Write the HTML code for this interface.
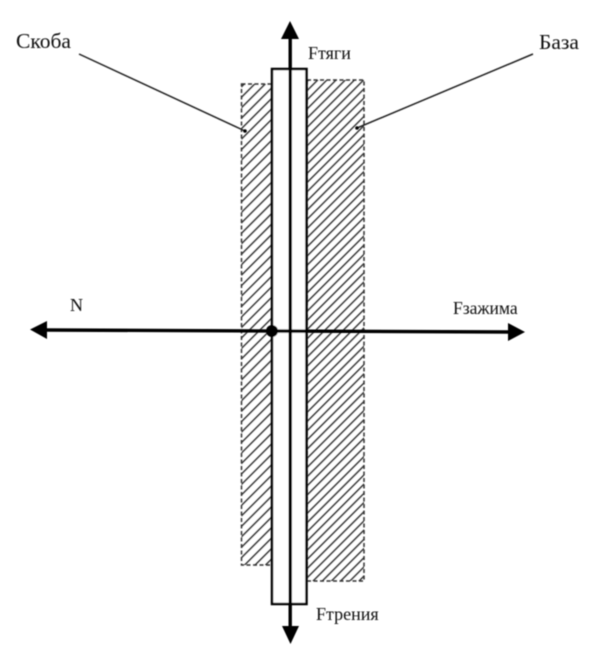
<!DOCTYPE html>
<html>
<head>
<meta charset="utf-8">
<style>
html,body{margin:0;padding:0;background:#fff;width:600px;height:654px;overflow:hidden}
svg{display:block}
text{font-family:"Liberation Serif",serif;fill:#111}
</style>
</head>
<body>
<svg width="600" height="654" viewBox="0 0 600 654" xmlns="http://www.w3.org/2000/svg">
<defs>
<pattern id="h" patternUnits="userSpaceOnUse" width="6.5" height="10" patternTransform="rotate(45 0 0) translate(1 0)">
<rect x="0" y="0" width="1.4" height="10" fill="#333"/>
</pattern>
<pattern id="h2" patternUnits="userSpaceOnUse" width="7.4" height="10" patternTransform="rotate(45 0 0) translate(2 0)">
<rect x="0" y="0" width="1.4" height="10" fill="#333"/>
</pattern>
<filter id="b" x="-5%" y="-5%" width="110%" height="110%"><feGaussianBlur stdDeviation="0.45"/></filter>
</defs>
<g filter="url(#b)">
<rect x="241.500" y="84" width="30.500" height="481" fill="url(#h2)" stroke="#333" stroke-width="1.500" stroke-dasharray="4 2.500"/>
<rect x="307" y="80" width="57" height="501" fill="url(#h)" stroke="#333" stroke-width="1.500" stroke-dasharray="4 2.500"/>
<rect x="272" y="69" width="34.500" height="535" fill="#fff" stroke="#000" stroke-width="2.500"/>
<line x1="290.200" y1="36" x2="290.200" y2="628" stroke="#000" stroke-width="3.400"/>
<polygon points="290,21 299,39 281,39" fill="#000"/>
<polygon points="290.500,644 299,626 282,626" fill="#000"/>
<line x1="45" y1="330" x2="510" y2="332" stroke="#000" stroke-width="3.400"/>
<polygon points="30,329.500 47,321 47,339" fill="#000"/>
<polygon points="525,332 508,323 508,341" fill="#000"/>
<circle cx="272" cy="331" r="6" fill="#000"/>
<line x1="79" y1="54" x2="245" y2="131" stroke="#222" stroke-width="1.500"/>
<line x1="533" y1="54" x2="357" y2="128" stroke="#222" stroke-width="1.500"/>
<circle cx="245" cy="131" r="1.800" fill="#000"/>
<circle cx="357" cy="128" r="1.800" fill="#000"/>
</g>
<g filter="url(#b)">
<text x="16" y="48" font-size="21.500">Скоба</text>
<text x="539" y="49" font-size="21.500">База</text>
<text x="308" y="59" font-size="18">Fтяги</text>
<text x="70" y="311" font-size="18">N</text>
<text x="453" y="314" font-size="17.500">Fзажима</text>
<text x="316" y="620" font-size="18">Fтрения</text>
</g>
</svg>
</body>
</html>
